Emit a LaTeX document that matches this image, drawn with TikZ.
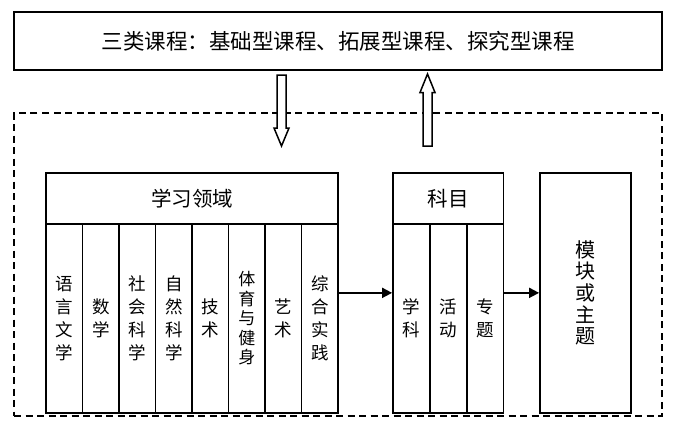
\documentclass[tikz,border=0pt]{standalone}
\usepackage{fontspec}
\setmainfont{Noto Sans CJK SC}
\usetikzlibrary{arrows.meta}
\begin{document}
\begin{tikzpicture}[x=1pt,y=-1pt,
  lw/.style={line width=1.8pt},
  boxnode/.style={draw,lw,inner sep=0pt,align=center},
  colnode/.style={boxnode,minimum height=189pt,font=\fontsize{17.5}{23}\selectfont},
  hdr/.style={boxnode,minimum height=51.3pt,font=\fontsize{20.5}{22}\selectfont},
  blockarrow/.style={draw,line width=1.5pt,fill=white,line join=miter},
  flow/.style={lw,-{Triangle[length=10pt,width=10pt]}}
]
\useasboundingbox (0,0) rectangle (687,431);
% top box
\node[boxnode,minimum width=648pt,minimum height=58pt,font=\fontsize{21.5}{24}\selectfont] (top) at (338,41) {三类课程：基础型课程、拓展型课程、探究型课程};
% dashed frame
\node[draw,line width=1.6pt,dash pattern=on 7pt off 4.5pt,minimum width=648pt,minimum height=303pt,inner sep=0pt] (frame) at (338,264.5) {};
% block arrows
\draw[blockarrow] (277,75) -- (286,75) -- (286,128) -- (289,128) -- (281.5,146) -- (274,128) -- (277,128) -- cycle;
\draw[blockarrow] (427.5,74) -- (435,92.5) -- (432,92.5) -- (432,146) -- (423,146) -- (423,92.5) -- (420,92.5) -- cycle;
% learning areas
\node[boxnode,minimum width=292pt,minimum height=240.3pt] (L) at (192,292.85) {};
\node[hdr,minimum width=292pt] (Lh) at (192,198.35) {学习领域};
\node[colnode,minimum width=36.5pt] (c1) at (64.25,318.5) {语\\言\\文\\学};
\node[colnode,minimum width=36.5pt] (c2) at (100.75,318.5) {数\\学};
\node[colnode,minimum width=36.5pt] (c3) at (137.25,318.5) {社\\会\\科\\学};
\node[colnode,minimum width=36.5pt] (c4) at (173.75,318.5) {自\\然\\科\\学};
\node[colnode,minimum width=36.5pt] (c5) at (210.25,318.5) {技\\术};
\node[colnode,minimum width=36.5pt,font=\fontsize{17}{19.5}\selectfont] (c6) at (246.75,318.5) {体\\育\\与\\健\\身};
\node[colnode,minimum width=36.5pt] (c7) at (283.25,318.5) {艺\\术};
\node[colnode,minimum width=36.5pt] (c8) at (319.75,318.5) {综\\合\\实\\践};
% subjects
\node[boxnode,minimum width=110.5pt,minimum height=240.3pt] (K) at (448.25,292.85) {};
\node[hdr,minimum width=110.5pt] (Kh) at (448.25,198.35) {科目};
\node[colnode,minimum width=36.83pt] (k1) at (411.4,318.5) {学\\科};
\node[colnode,minimum width=36.83pt] (k2) at (448.25,318.5) {活\\动};
\node[colnode,minimum width=36.83pt] (k3) at (485.1,318.5) {专\\题};
% modules
\node[boxnode,minimum width=91pt,minimum height=240.3pt,font=\fontsize{20}{21.7}\selectfont] (M) at (585.5,292.85) {模\\块\\或\\主\\题};
% connectors
\draw[flow] (L.east) -- (K.west);
\draw[flow] (K.east) -- (M.west);
\end{tikzpicture}
\end{document}
